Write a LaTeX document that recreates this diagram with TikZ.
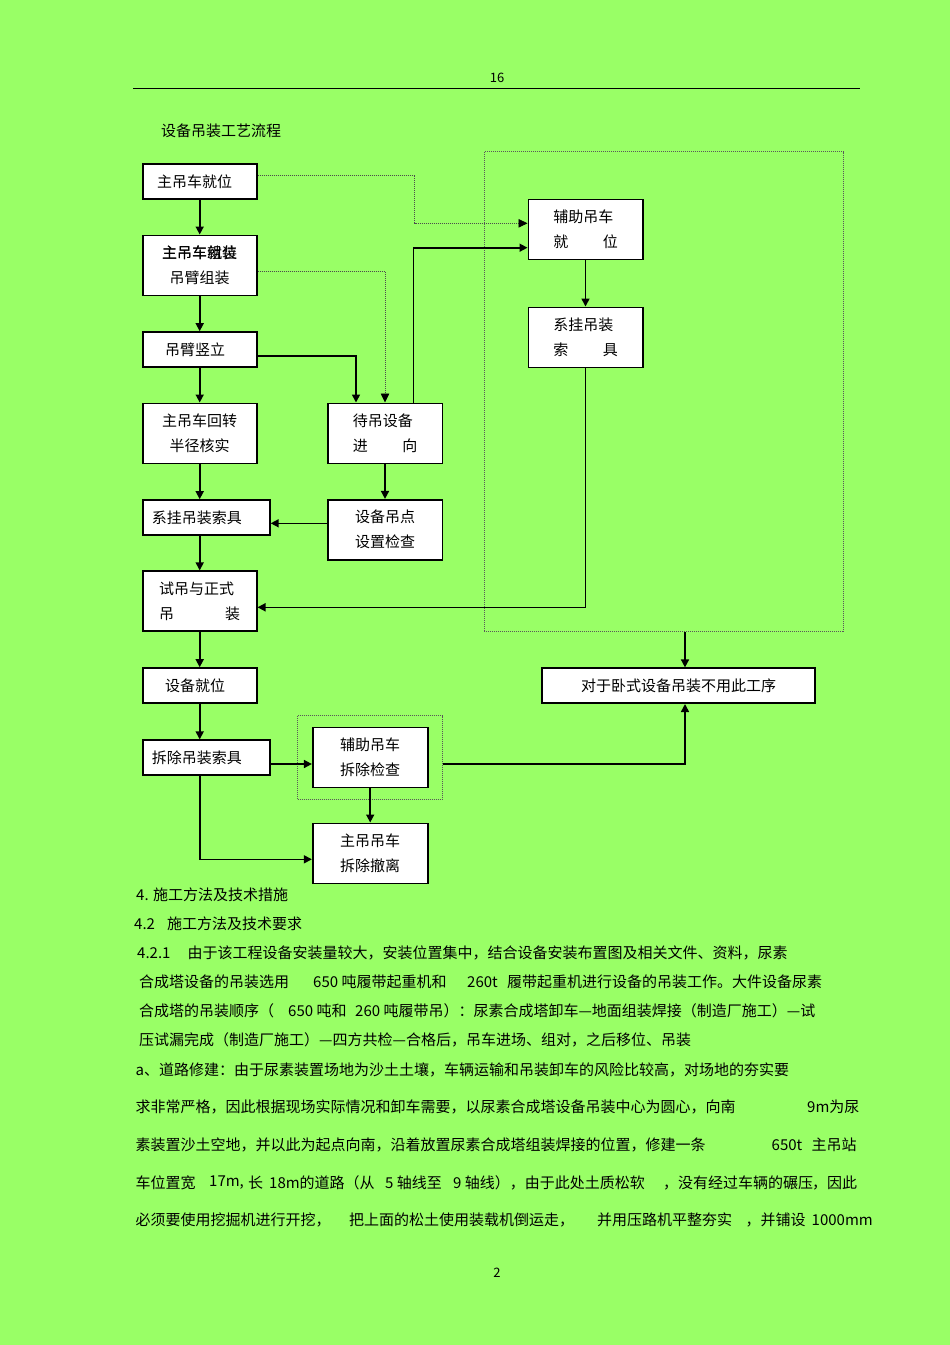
\documentclass[tikz,border=0pt]{standalone}
\usepackage{fontspec}
\setmainfont{Noto Sans CJK SC}
\usetikzlibrary{positioning, arrows.meta}
\definecolor{pagegreen}{RGB}{153,255,102}
\tikzset{
x=1pt, y=-1pt, % one unit is one pixel of the page, y grows downwards
>={Triangle[length=8pt, width=8pt]}, % filled arrow heads
every node/.style={font=\fontsize{15}{25}\selectfont}, % text size of the whole page
stepbox/.style={draw, line width=1.6pt, fill=white, inner sep=0pt, align=center}, % one step of the flow
oneline/.style={stepbox, minimum height=35pt}, % step with one line of text
twoline/.style={stepbox, minimum height=60pt}, % step with two lines of text
flow/.style={->, line width=1.6pt}, % solid connector
hint/.style={-{Triangle[length=9pt, width=8.5pt, black]}, line width=0.8pt, dash pattern=on 1pt off 1pt, black!70}, % dotted connector
groupbox/.style={draw, line width=0.8pt, dash pattern=on 1pt off 1pt, black!65, inner sep=0pt}, % dotted group
txt/.style={anchor=west, inner sep=0pt}, % running text of the page
}

\begin{document}
\begin{tikzpicture}
                \useasboundingbox (0,0) rectangle (950,1345);
                \fill[pagegreen] (0,0) rectangle (950,1345);

                % page head
                \node (pgno) at (497,78) {\fontsize{13}{15}\selectfont 16};
                \draw[line width=0.8pt] (133,88) -- (860,88);
                \node[txt] (title) at (161,131) {设备吊装工艺流程};

                % dotted groups
                \node[groupbox, minimum width=358.7pt, minimum height=480pt] (g1) at (663.7,391.7) {};
                \node[groupbox, minimum width=145pt, minimum height=83.6pt] (g2) at (370.2,757.5) {};

                % main crane column
                \node[oneline, minimum width=114pt] (s1) at (199.7,181.7) {主吊车就位\hspace*{10pt}};
                \node[twoline, minimum width=114pt] (s2) at (199.7,265.3) {\rlap{主吊车组装}主吊车就位\\吊臂组装};
                \node[oneline, minimum width=114pt] (s3) at (199.7,349.5) {吊臂竖立\hspace*{9pt}};
                \node[twoline, minimum width=114pt] (s4) at (199.7,433.3) {主吊车回转\\半径核实};
                \node[oneline, minimum width=127pt] (s5) at (206.4,517.5) {系挂吊装索具\hspace*{19pt}};
                \node[twoline, minimum width=114pt, align=left] (s6) at (199.7,601.2) {试吊与正式\\\makebox[5.4em][s]{吊\hfill 装}};
                \node[oneline, minimum width=114pt] (s7) at (199.7,685.5) {设备就位\hspace*{9pt}};
                \node[oneline, minimum width=127pt] (s8) at (206.4,757.7) {拆除吊装索具\hspace*{19pt}};

                % removal
                \node[twoline, minimum width=115pt] (s9) at (370.2,757.3) {辅助吊车\\拆除检查};
                \node[twoline, minimum width=115pt, node distance=96pt, below of=s9] (s10) {主吊吊车\\拆除撤离};

                % equipment column
                \node[twoline, minimum width=114.6pt, align=left] (s11) at (385,433.3) {待吊设备\\\makebox[4.3em][s]{进\hfill 向}};
                \node[twoline, minimum width=114.6pt, node distance=96.4pt, below of=s11] (s12) {设备吊点\\设置检查};

                % auxiliary crane
                \node[twoline, minimum width=114.4pt, align=left] (s13) at (585.5,229.3) {辅助吊车\\\makebox[4.3em][s]{就\hfill 位}};
                \node[twoline, minimum width=114.4pt, align=left, node distance=108pt, below of=s13] (s14) {系挂吊装\\\makebox[4.3em][s]{索\hfill 具}};
                \node[oneline, minimum width=273pt] (s15) at (678.5,685.7) {对于卧式设备吊装不用此工序};

                % connectors
                \draw[flow] (s1) -- (s2);
                \draw[flow] (s2) -- (s3);
                \draw[flow] (s3) -- (s4);
                \draw[flow] (s4.south) -- (s4.south |- s5.north);
                \draw[flow] (s5.south -| s6.north) -- (s6.north);
                \draw[flow] (s6) -- (s7);
                \draw[flow] (s7.south) -- (s7.south |- s8.north);
                \coordinate (h1) at ([yshift=-6.3pt]s8.east);
                \draw[flow] (h1) -- (h1 -| s9.west);
                \draw[flow] (s9) -- (s10);
                \draw[flow] (s8.south -| s7.south) |- ([yshift=-6pt]s10.west);
                \coordinate (drop) at ([xshift=21.3pt]g1.south);
                \draw[flow] (drop) -- (drop |- s15.north);
                \draw[flow] (h1 -| g2.east) -| (drop |- s15.south);

                \draw[hint] ([yshift=6pt]s1.east) -- ++(157.3,0) |- ([yshift=6pt]s13.west);
                \draw[hint] ([yshift=-6.3pt]s2.east) -| (s11.north);
                \draw[flow] ([yshift=-6.2pt]s3.east) -| ([xshift=-29pt]s11.north);
                \draw[flow] ([xshift=28.3pt]s11.north) |- ([yshift=-18.4pt]s13.west);
                \draw[flow] (s13) -- (s14);
                \draw[flow] (s14.south) |- ([yshift=-6.1pt]s6.east);
                \draw[flow] (s11) -- (s12);
                \coordinate (l1) at ([yshift=6.4pt]s12.west);
                \draw[flow] (l1) -- (l1 -| s5.east);

                % running text
                \node[txt] (t1) at (136,895) {4. 施工方法及技术措施};
                \node[txt] (t2a) at (134,924) {4.2};
                \node[txt] (t2b) at (167,924) {施工方法及技术要求};
                \node[txt] (t3a) at (137,953) {4.2.1};
                \node[txt] (t3b) at (187.5,953) {由于该工程设备安装量较大，安装位置集中，结合设备安装布置图及相关文件、资料，尿素};
                \node[txt] (t4a) at (139,982) {合成塔设备的吊装选用};
                \node[txt] (t4b) at (313,982) {650 吨履带起重机和};
                \node[txt] (t4c) at (467,982) {260t};
                \node[txt] (t4d) at (507,982) {履带起重机进行设备的吊装工作。大件设备尿素};
                \node[txt] (t5a) at (139,1011) {合成塔的吊装顺序（};
                \node[txt] (t5b) at (288,1011) {650 吨和};
                \node[txt] (t5c) at (355,1011) {260 吨履带吊）：尿素合成塔卸车—地面组装焊接（制造厂施工）—试};
                \node[txt] (t6) at (139,1040) {压试漏完成（制造厂施工）—四方共检—合格后，吊车进场、组对，之后移位、吊装};
                \node[txt] (t7) at (135.5,1070) {a、道路修建：由于尿素装置场地为沙土土壤，车辆运输和吊装卸车的风险比较高，对场地的夯实要};
                \node[txt] (t8a) at (135.5,1107) {求非常严格，因此根据现场实际情况和卸车需要，以尿素合成塔设备吊装中心为圆心，向南};
                \node[txt] (t8b) at (807,1107) {9m为尿};
                \node[txt] (t9a) at (135.5,1145) {素装置沙土空地，并以此为起点向南，沿着放置尿素合成塔组装焊接的位置，修建一条};
                \node[txt] (t9b) at (771.5,1145) {650t};
                \node[txt] (t9c) at (811.5,1145) {主吊站};
                \node[txt] (t10a) at (135.5,1183) {车位置宽};
                \node[txt] (t10b) at (209,1183) {17m,};
                \node[txt] (t10c) at (248,1183) {长};
                \node[txt] (t10d) at (269,1183) {18m的道路（从};
                \node[txt] (t10e) at (385,1183) {5 轴线至};
                \node[txt] (t10f) at (453,1183) {9 轴线），由于此处土质松软};
                \node[txt] (t10g) at (663,1183) {，没有经过车辆的碾压};
                \node[txt] (t10h) at (812,1183) {，因此};
                \node[txt] (t11a) at (135.5,1220) {必须要使用挖掘机进行开挖，};
                \node[txt] (t11b) at (349,1220) {把上面的松土使用装载机倒运走，};
                \node[txt] (t11c) at (597,1220) {并用压路机平整夯实};
                \node[txt] (t11d) at (745.5,1220) {，并铺设};
                \node[txt] (t11e) at (811.5,1220) {1000mm};

                % page foot
                \node (pgfoot) at (497,1273) {\fontsize{13}{15}\selectfont 2};
            \end{tikzpicture}
\end{document}
